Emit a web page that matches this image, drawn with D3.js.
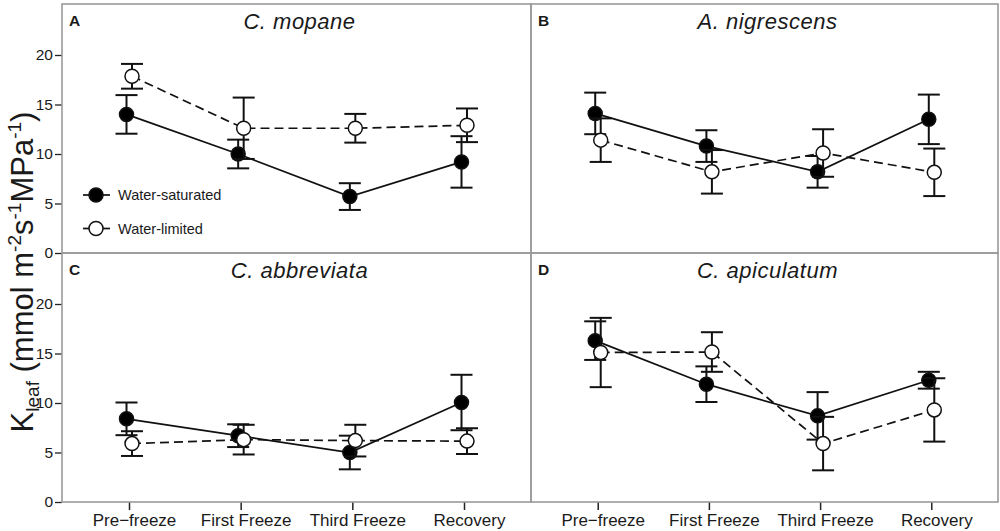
<!DOCTYPE html>
<html>
<head>
<meta charset="utf-8">
<script src="https://cdn.jsdelivr.net/npm/d3@7"></script>
<style>
  html, body { margin: 0; padding: 0; background: #fff; }
  svg { display: block; }
  text { font-family: "Liberation Sans", Arial, Helvetica, sans-serif; fill: #1a1a1a; }
</style>
</head>
<body>
<svg id="chart" width="1000" height="531"></svg>
<script>
// ---------- data ----------
const categories = ["Pre\u2212freeze", "First Freeze", "Third Freeze", "Recovery"];
const species = ["C. mopane", "A. nigrescens", "C. abbreviata", "C. apiculatum"];
const panelLetters = ["A", "B", "C", "D"];
const yTicks = [0, 5, 10, 15, 20];
const seriesNames = ["Water-saturated", "Water-limited"];

// Water-saturated means and SE, per panel (A, B, C, D)
const satMean = [
  [14.0, 10.0, 5.7, 9.2],
  [14.1, 10.8, 8.2, 13.5],
  [8.4, 6.7, 5.0, 10.05],
  [16.3, 11.9, 8.7, 12.3]
];
const satErr = [
  [1.95, 1.45, 1.35, 2.6],
  [2.1, 1.6, 1.6, 2.5],
  [1.65, 1.15, 1.7, 2.8],
  [1.95, 1.8, 2.4, 0.85]
];
// Water-limited means and SE
const limMean = [
  [17.85, 12.6, 12.6, 12.9],
  [11.4, 8.2, 10.1, 8.15],
  [5.9, 6.3, 6.2, 6.15],
  [15.1, 15.15, 5.9, 9.3]
];
const limErr = [
  [1.25, 3.1, 1.45, 1.7],
  [2.2, 2.2, 2.4, 2.4],
  [1.25, 1.5, 1.6, 1.3],
  [3.5, 2.0, 2.7, 3.2]
];

// ---------- layout ----------
const svg = d3.select("#chart");
const L = 62, M = 531, R = 998, T = 4, MID = 253, B = 502;
const frameColor = "#9a9a9a";

const panels = [
  { x0: L, x1: M, y0: T, y1: MID, left: true,  bottom: false },
  { x0: M, x1: R, y0: T, y1: MID, left: false, bottom: false },
  { x0: L, x1: M, y0: MID, y1: B, left: true,  bottom: true },
  { x0: M, x1: R, y0: MID, y1: B, left: false, bottom: true }
];

const series = [
  { mean: satMean, err: satErr, fill: "#000", dash: null, dx: -2.5 },
  { mean: limMean, err: limErr, fill: "#fff", dash: "9,5", dx: 3 }
];

panels.forEach((p, i) => {
  const g = svg.append("g");
  const x = d3.scalePoint().domain(categories).range([p.x0, p.x1]).padding(0.6);
  const y = d3.scaleLinear().domain([0, 25]).range([p.y1, p.y0 + 1.5]);

  // axes
  if (p.left) {
    const ay = g.append("g").attr("transform", `translate(${p.x0},0)`)
      .call(d3.axisLeft(y).tickValues(yTicks).tickSize(7).tickPadding(2));
    ay.select(".domain").remove();
    ay.selectAll(".tick line").attr("stroke", "#222").attr("stroke-width", 1.3);
    ay.selectAll(".tick text").style("font-size", "15.5px").attr("fill", "#1a1a1a");
  }
  if (p.bottom) {
    const ax = g.append("g").attr("transform", `translate(0,${p.y1})`)
      .call(d3.axisBottom(x).tickSize(8).tickPadding(4));
    ax.select(".domain").remove();
    ax.selectAll(".tick line").attr("stroke", "#222").attr("stroke-width", 1.5);
    ax.selectAll(".tick text").style("font-size", "17px").attr("fill", "#1a1a1a").attr("dx", 5);
  }

  // frame
  g.append("rect")
    .attr("x", p.x0).attr("y", p.y0)
    .attr("width", p.x1 - p.x0).attr("height", p.y1 - p.y0)
    .attr("fill", "none").attr("stroke", frameColor).attr("stroke-width", 1.6);

  // panel letter and title
  g.append("text").attr("x", p.x0 + 7).attr("y", p.y0 + 22)
    .style("font-size", "15.5px").style("font-weight", "bold").text(panelLetters[i]);
  g.append("text").attr("x", (p.x0 + p.x1) / 2 + 3).attr("y", p.y0 + 25)
    .attr("text-anchor", "middle")
    .style("font-size", "22px").style("font-style", "italic").style("letter-spacing", "0.5px")
    .text(species[i]);

  // series
  series.forEach(s => {
    const pts = categories.map((c, k) => ({ c, v: s.mean[i][k], e: s.err[i][k] }));
    const line = d3.line().x(d => x(d.c) + s.dx).y(d => y(d.v));
    g.append("path").datum(pts).attr("d", line)
      .attr("fill", "none").attr("stroke", "#111").attr("stroke-width", 1.7)
      .attr("stroke-dasharray", s.dash);
    const eb = g.append("g").attr("stroke", "#111").attr("stroke-width", 2);
    pts.forEach(d => {
      const cx = x(d.c) + s.dx;
      eb.append("line").attr("x1", cx).attr("x2", cx).attr("y1", y(d.v - d.e)).attr("y2", y(d.v + d.e));
      eb.append("line").attr("x1", cx - 11).attr("x2", cx + 11).attr("y1", y(d.v + d.e)).attr("y2", y(d.v + d.e));
      eb.append("line").attr("x1", cx - 11).attr("x2", cx + 11).attr("y1", y(d.v - d.e)).attr("y2", y(d.v - d.e));
    });
    g.selectAll(null).data(pts).enter().append("circle")
      .attr("cx", d => x(d.c) + s.dx).attr("cy", d => y(d.v)).attr("r", 7)
      .attr("fill", s.fill).attr("stroke", "#111").attr("stroke-width", 1.5);
  });
});

// legend (inside panel A)
const leg = svg.append("g");
series.forEach((s, k) => {
  const cy = 195 + k * 33.5;
  leg.append("line").attr("x1", 83).attr("x2", 110).attr("y1", cy).attr("y2", cy)
    .attr("stroke", "#111").attr("stroke-width", 1.7);
  leg.append("circle").attr("cx", 96).attr("cy", cy).attr("r", 7)
    .attr("fill", s.fill).attr("stroke", "#111").attr("stroke-width", 1.5);
  leg.append("text").attr("x", 118).attr("y", cy + 5).style("font-size", "14.5px").text(seriesNames[k]);
});

// y-axis title
const yt = svg.append("text")
  .attr("transform", "translate(33,272) rotate(-90)")
  .attr("text-anchor", "middle")
  .style("font-size", "31px");
yt.append("tspan").text("K");
yt.append("tspan").style("font-size", "19px").attr("dy", 6).text("leaf");
yt.append("tspan").attr("dy", -6).text(" (mmol m");
yt.append("tspan").style("font-size", "19px").attr("dy", -12).text("-2");
yt.append("tspan").attr("dy", 12).text("s");
yt.append("tspan").style("font-size", "19px").attr("dy", -12).text("-1");
yt.append("tspan").attr("dy", 12).text("MPa");
yt.append("tspan").style("font-size", "19px").attr("dy", -12).text("-1");
yt.append("tspan").attr("dy", 12).text(")");
</script>
</body>
</html>
